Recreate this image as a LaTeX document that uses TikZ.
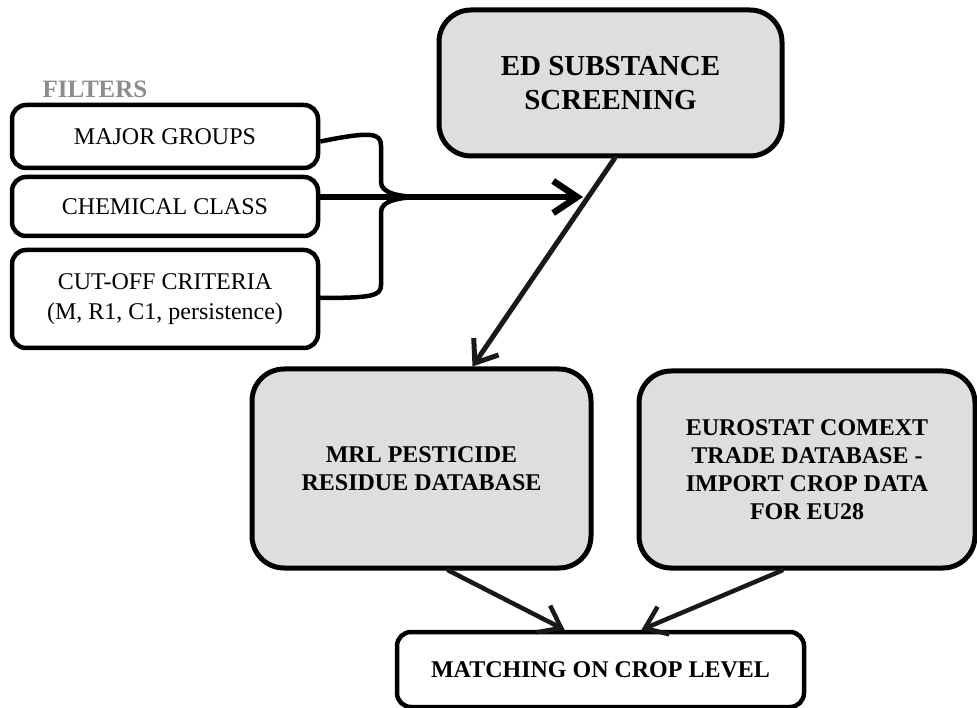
\documentclass[tikz,border=0pt]{standalone}
\usepackage{fontspec}
\setmainfont{Liberation Serif}
\usepackage{xcolor}
\usepackage{tikz}
\usetikzlibrary{arrows.meta, positioning, calc}

\begin{document}
\begin{tikzpicture}[
    x=1pt, y=-1pt,
    node distance=4.5pt and 10pt,
    filterbox/.style={draw=black, rounded corners=14pt, line width=4.5pt,
                minimum width=306pt, align=center, fill=white,
                font=\fontsize{24}{30}\selectfont},
    stagebox/.style={draw=black, rounded corners=32pt, line width=5pt,
                align=center, fill=black!13,
                font=\fontsize{24}{28}\selectfont\bfseries},
    matchbox/.style={draw=black, rounded corners=14pt, line width=4.5pt,
                minimum width=407pt, minimum height=75pt, align=center,
                fill=white, font=\fontsize{24}{28}\selectfont\bfseries},
    arr/.style={-{Straight Barb[length=20pt, width=30pt]}, line width=5pt,
                draw=black!90, line cap=round},
    bigarr/.style={-{Straight Barb[length=24pt, width=32pt]}, line width=6.5pt,
                draw=black, line cap=round},
    bracepath/.style={draw=black, line width=4.5pt, line join=round},
]
    \useasboundingbox (0,0) rectangle (977,708);

    % Filters
    \node[font=\fontsize{25}{28}\selectfont\bfseries, text=black!45] (filters) at (95,89) {FILTERS};
    \node[filterbox, minimum height=63pt] (major) at (165,136.5) {MAJOR GROUPS};
    \node[filterbox, minimum height=59pt, below=4.5pt of major] (chem) {CHEMICAL CLASS};
    \node[filterbox, minimum height=98pt, below=9.5pt of chem] (cutoff) {CUT-OFF CRITERIA\\(M, R1, C1, persistence)};

    % Screening
    \node[stagebox, minimum width=343pt, minimum height=146pt,
          font=\fontsize{29}{34}\selectfont\bfseries] (ed) at (610.5,83) {ED SUBSTANCE\\SCREENING};

    % Databases
    \node[stagebox, minimum width=339pt, minimum height=199pt] (mrl) at (421.5,468.5) {MRL PESTICIDE\\RESIDUE DATABASE};
    \node[stagebox, minimum width=336pt, minimum height=197pt] (euro) at (807,469.5)
        {EUROSTAT COMEXT\\TRADE DATABASE -\\IMPORT CROP DATA\\FOR EU28};

    % Matching
    \node[matchbox] (match) at (600.5,669.5) {MATCHING ON CROP LEVEL};

    % Brace
    \coordinate (bracetip) at (423,197);
    \coordinate (chemtip) at (583,197);
    \draw[bracepath] ([yshift=-5pt]major.east) .. controls (372,131) and (381,133) .. (381,146)
        -- (381,182) .. controls (381,193) and (398,197) .. (bracetip)
        .. controls (398,197) and (381,201) .. (381,212)
        -- (381,285) .. controls (381,296) and (372,298) .. (318,298);

    % Arrows
    \draw[bigarr] (chem.east |- chemtip) -- (chemtip);
    \draw[arr] ([xshift=4pt]ed.south) -- ([xshift=51pt]mrl.north);
    \draw[arr, line width=4.5pt] ([xshift=27pt]mrl.south) -- ([xshift=-36pt]match.north);
    \draw[arr, line width=4.5pt] ([xshift=-25pt]euro.south) -- ([xshift=41pt]match.north);
\end{tikzpicture}
\end{document}
